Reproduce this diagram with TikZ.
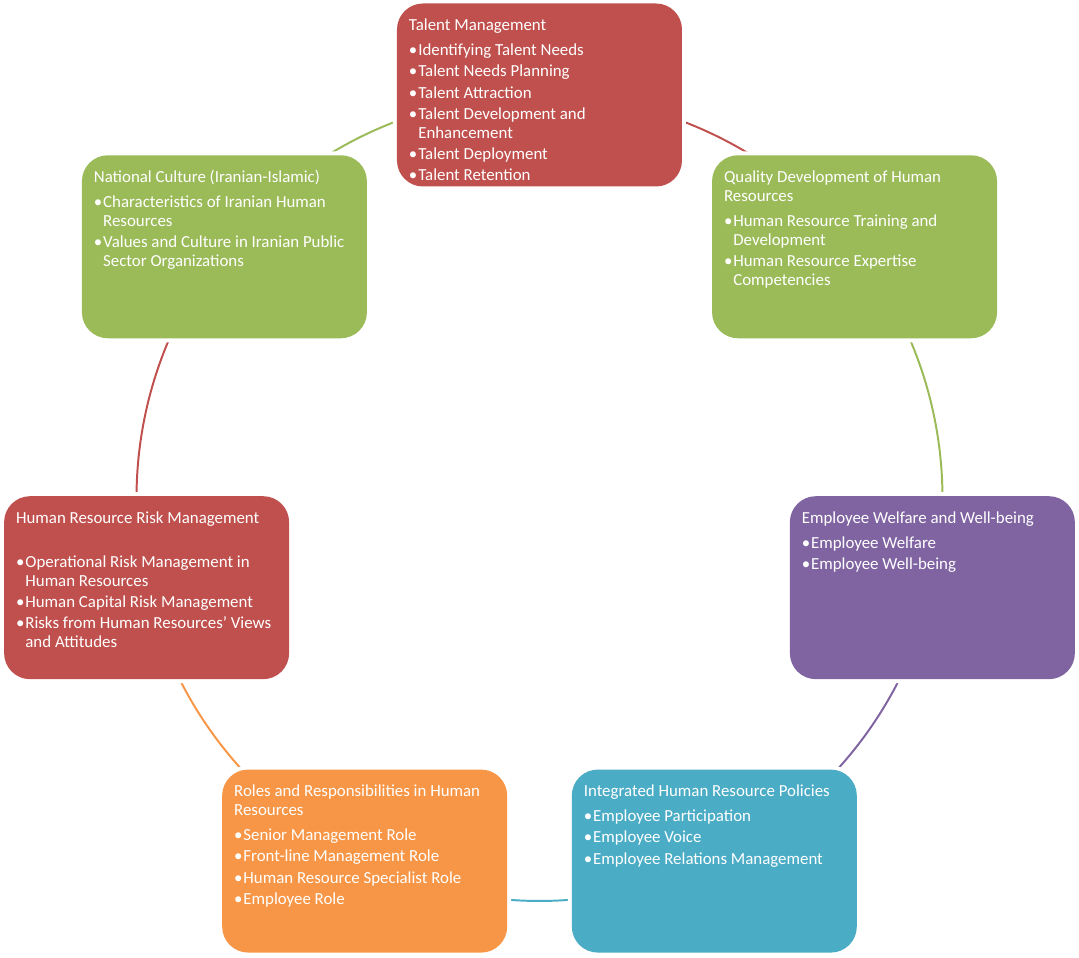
\documentclass[tikz,border=0pt]{standalone}
\usepackage{fontspec}
\setmainfont{Carlito}
\usepackage{xcolor}
\usepackage{tikz}
\usetikzlibrary{positioning, backgrounds}
\definecolor{hrred}{HTML}{C0504D}
\definecolor{hrgreen}{HTML}{9BBB59}
\definecolor{hrpurple}{HTML}{8064A2}
\definecolor{hrteal}{HTML}{4BACC6}
\definecolor{hrorange}{HTML}{F79646}

\newcommand{\boxtitle}[1]{\strut#1\par\vspace{2.8pt}}
\newcommand{\bul}[1]{\par\vspace{1.6pt}\hangindent=6.6pt\hangafter=1\noindent\makebox[6.6pt][l]{\textbullet}#1\par}
\newcommand{\hrtext}[1]{\begin{minipage}[t][3.895cm][t]{6.525cm}\fontsize{12}{13.5}\selectfont\raggedright #1\end{minipage}}

\begin{document}
\begin{tikzpicture}
		\tikzstyle{hrbox}=[minimum width=7.125cm, minimum height=4.575cm, inner xsep=0.3cm, inner ysep=0.34cm, rounded corners=0.65cm, text=white, preaction={draw=white, line width=0.2cm}]
		\def\R{10.075}
		
		\useasboundingbox (-13.4875,-11.5) rectangle (13.4875,12.45);
		
		\node [hrbox, fill=hrred] (tm) at (90:\R) {\hrtext{\boxtitle{Talent Management}
				\bul{Identifying Talent Needs}
				\bul{Talent Needs Planning}
				\bul{Talent Attraction}
				\bul{Talent Development and\newline Enhancement}
				\bul{Talent Deployment}
				\bul{Talent Retention}}};
		
		\node [hrbox, fill=hrgreen] (qd) at (38.57:\R) {\hrtext{\boxtitle{Quality Development of Human\\Resources}
				\bul{Human Resource Training and\newline Development}
				\bul{Human Resource Expertise\newline Competencies}}};
		
		\node [hrbox, fill=hrpurple] (ew) at (-12.86:\R) {\hrtext{\boxtitle{Employee Welfare and Well-being}
				\bul{Employee Welfare}
				\bul{Employee Well-being}}};
		
		\node [hrbox, fill=hrteal] (ih) at (-64.29:\R) {\hrtext{\boxtitle{Integrated Human Resource Policies}
				\bul{Employee Participation}
				\bul{Employee Voice}
				\bul{Employee Relations Management}}};
		
		\node [hrbox, fill=hrorange] (rr) at (-115.71:\R) {\hrtext{\boxtitle{Roles and Responsibilities in Human\\Resources}
				\bul{Senior Management Role}
				\bul{Front-line Management Role}
				\bul{Human Resource Specialist Role}
				\bul{Employee Role}}};
		
		\node [hrbox, fill=hrred] (rm) at (-167.14:\R) {\hrtext{\boxtitle{Human Resource Risk Management}
				\strut\par
				\bul{Operational Risk Management in\newline Human Resources}
				\bul{Human Capital Risk Management}
				\bul{Risks from Human Resources’ Views\newline and Attitudes}}};
		
		\node [hrbox, fill=hrgreen] (nc) at (141.43:\R) {\hrtext{\boxtitle{National Culture (Iranian-Islamic)}
				\bul{Characteristics of Iranian Human\newline Resources}
				\bul{Values and Culture in Iranian Public\newline Sector Organizations}}};
		
		%% ring segments, coloured after the box they leave
		\begin{pgfonlayer}{background}
		\foreach \n/\a/\c in {tm/90/hrred, qd/38.57/hrgreen, ew/-12.86/hrpurple, ih/-64.29/hrteal, rr/-115.71/hrorange, rm/-167.14/hrred, nc/-218.57/hrgreen}
		\draw [\c, line width=1.4pt] (\n.center) arc [start angle=\a, end angle=\a-51.43, radius=\R];
		\end{pgfonlayer}
\end{tikzpicture}
\end{document}
